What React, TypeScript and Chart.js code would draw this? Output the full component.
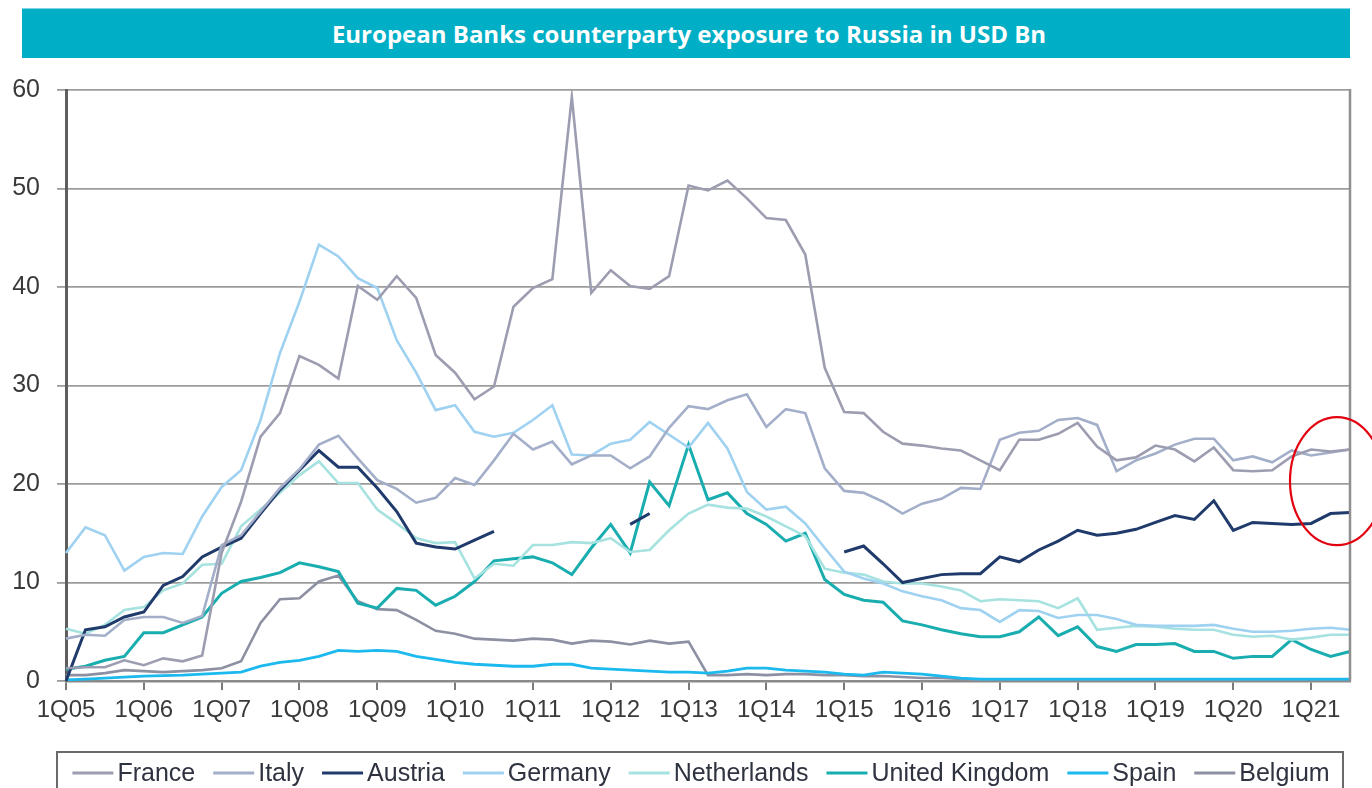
import React, { useEffect, useRef } from 'react';
import { Chart, registerables } from 'chart.js';

Chart.register(...registerables);

const TITLE = 'European Banks counterparty exposure to Russia in USD Bn';

const quarters = [
  '1Q05', '2Q05', '3Q05', '4Q05', '1Q06', '2Q06', '3Q06', '4Q06',
  '1Q07', '2Q07', '3Q07', '4Q07', '1Q08', '2Q08', '3Q08', '4Q08',
  '1Q09', '2Q09', '3Q09', '4Q09', '1Q10', '2Q10', '3Q10', '4Q10',
  '1Q11', '2Q11', '3Q11', '4Q11', '1Q12', '2Q12', '3Q12', '4Q12',
  '1Q13', '2Q13', '3Q13', '4Q13', '1Q14', '2Q14', '3Q14', '4Q14',
  '1Q15', '2Q15', '3Q15', '4Q15', '1Q16', '2Q16', '3Q16', '4Q16',
  '1Q17', '2Q17', '3Q17', '4Q17', '1Q18', '2Q18', '3Q18', '4Q18',
  '1Q19', '2Q19', '3Q19', '4Q19', '1Q20', '2Q20', '3Q20', '4Q20',
  '1Q21', '2Q21', '3Q21',
];

const france = [
  1.3, 1.4, 1.4, 2.1, 1.6, 2.3, 2.0, 2.6,
  13.0, 18.2, 24.8, 27.2, 33.0, 32.1, 30.7, 40.1,
  38.7, 41.1, 38.9, 33.1, 31.3, 28.6, 29.9, 38.0,
  39.9, 40.8, 59.3, 39.4, 41.7, 40.1, 39.8, 41.1,
  50.3, 49.8, 50.8, 49.0, 47.0, 46.8, 43.3, 31.8,
  27.3, 27.2, 25.3, 24.1, 23.9, 23.6, 23.4, 22.4,
  21.4, 24.5, 24.5, 25.1, 26.2, 23.8, 22.4, 22.7,
  23.9, 23.5, 22.3, 23.7, 21.4, 21.3, 21.4, 22.8,
  23.5, 23.3, 23.5,
];

const italy = [
  4.3, 4.7, 4.6, 6.2, 6.5, 6.5, 5.9, 6.6,
  13.8, 14.8, 17.2, 19.6, 21.5, 24.0, 24.9, 22.6,
  20.4, 19.5, 18.1, 18.6, 20.6, 19.9, 22.4, 25.1,
  23.5, 24.3, 22.0, 22.9, 22.9, 21.6, 22.8, 25.7,
  27.9, 27.6, 28.5, 29.1, 25.8, 27.6, 27.2, 21.6,
  19.3, 19.1, 18.2, 17.0, 18.0, 18.5, 19.6, 19.5,
  24.5, 25.2, 25.4, 26.5, 26.7, 26.0, 21.3, 22.4,
  23.1, 24.0, 24.6, 24.6, 22.4, 22.8, 22.2, 23.4,
  22.9, 23.2, 23.5,
];

const austria = [
  0.0, 5.2, 5.5, 6.5, 7.0, 9.7, 10.6, 12.6,
  13.6, 14.5, 17.0, 19.4, 21.4, 23.4, 21.7, 21.7,
  19.6, 17.2, 14.0, 13.6, 13.4, 14.3, 15.2, null,
  null, null, null, null, null, 15.9, 17.0, null,
  null, null, null, null, null, null, null, null,
  13.1, 13.7, 11.9, 10.0, 10.4, 10.8, 10.9, 10.9,
  12.6, 12.1, 13.3, 14.2, 15.3, 14.8, 15.0, 15.4,
  16.1, 16.8, 16.4, 18.3, 15.3, 16.1, 16.0, 15.9,
  16.0, 17.0, 17.1,
];

const germany = [
  13.0, 15.6, 14.8, 11.2, 12.6, 13.0, 12.9, 16.7,
  19.7, 21.4, 26.5, 33.3, 38.5, 44.3, 43.1, 40.9,
  39.9, 34.6, 31.3, 27.5, 28.0, 25.3, 24.8, 25.2,
  26.5, 28.0, 23.0, 22.9, 24.1, 24.5, 26.3, 25.0,
  23.7, 26.2, 23.6, 19.2, 17.4, 17.7, 16.0, 13.5,
  11.1, 10.4, 9.9, 9.1, 8.6, 8.2, 7.4, 7.2,
  6.0, 7.2, 7.1, 6.4, 6.7, 6.7, 6.3, 5.7,
  5.6, 5.6, 5.6, 5.7, 5.3, 5.0, 5.0, 5.1,
  5.3, 5.4, 5.2,
];

const netherlands = [
  5.3, 4.8, 5.7, 7.2, 7.5, 9.2, 9.9, 11.8,
  11.9, 15.7, 17.4, 19.1, 20.9, 22.3, 20.1, 20.1,
  17.4, 16.0, 14.5, 14.0, 14.1, 10.4, 11.9, 11.7,
  13.8, 13.8, 14.1, 14.0, 14.5, 13.1, 13.3, 15.3,
  17.0, 17.9, 17.6, 17.5, 16.7, 15.7, 14.7, 11.4,
  11.0, 10.8, 10.1, 9.9, 9.9, 9.6, 9.2, 8.1,
  8.3, 8.2, 8.1, 7.4, 8.4, 5.2, 5.4, 5.6,
  5.5, 5.3, 5.2, 5.2, 4.7, 4.5, 4.6, 4.2,
  4.4, 4.7, 4.7,
];

const unitedKingdom = [
  1.2, 1.5, 2.1, 2.5, 4.9, 4.9, 5.7, 6.5,
  8.9, 10.1, 10.5, 11.0, 12.0, 11.6, 11.1, 7.9,
  7.4, 9.4, 9.2, 7.7, 8.6, 10.1, 12.2, 12.4,
  12.6, 12.0, 10.8, 13.5, 15.9, 13.0, 20.2, 17.8,
  24.0, 18.4, 19.1, 17.0, 15.9, 14.2, 15.0, 10.3,
  8.8, 8.2, 8.0, 6.1, 5.7, 5.2, 4.8, 4.5,
  4.5, 5.0, 6.5, 4.6, 5.5, 3.5, 3.0, 3.7,
  3.7, 3.8, 3.0, 3.0, 2.3, 2.5, 2.5, 4.2,
  3.2, 2.5, 3.0,
];

const spain = [
  0.1, 0.2, 0.3, 0.4, 0.5, 0.55, 0.6, 0.7,
  0.8, 0.9, 1.5, 1.9, 2.1, 2.5, 3.1, 3.0,
  3.1, 3.0, 2.5, 2.2, 1.9, 1.7, 1.6, 1.5,
  1.5, 1.7, 1.7, 1.3, 1.2, 1.1, 1.0, 0.9,
  0.9, 0.8, 1.0, 1.3, 1.3, 1.1, 1.0, 0.9,
  0.7, 0.6, 0.9, 0.8, 0.7, 0.5, 0.3, 0.2,
  0.2, 0.2, 0.2, 0.2, 0.2, 0.2, 0.2, 0.2,
  0.2, 0.2, 0.2, 0.2, 0.2, 0.2, 0.2, 0.2,
  0.2, 0.2, 0.2,
];

const belgium = [
  0.6, 0.6, 0.8, 1.1, 1.0, 0.9, 1.0, 1.1,
  1.3, 2.0, 5.9, 8.3, 8.4, 10.1, 10.7, 8.1,
  7.3, 7.2, 6.2, 5.1, 4.8, 4.3, 4.2, 4.1,
  4.3, 4.2, 3.8, 4.1, 4.0, 3.7, 4.1, 3.8,
  4.0, 0.6, 0.6, 0.7, 0.6, 0.7, 0.7, 0.6,
  0.6, 0.5, 0.5, 0.4, 0.3, 0.3, 0.2, 0.1,
  0.1, 0.1, 0.1, 0.1, 0.1, 0.1, 0.1, 0.1,
  0.1, 0.1, 0.1, 0.1, 0.1, 0.1, 0.1, 0.1,
  0.1, 0.1, 0.1,
];

const seriesNames = ['France', 'Italy', 'Austria', 'Germany', 'Netherlands', 'United Kingdom', 'Spain', 'Belgium'];
const seriesData = [france, italy, austria, germany, netherlands, unitedKingdom, spain, belgium];
const seriesColors = ['#9d9db1', '#a3aec9', '#1f3a6b', '#9fd2f1', '#a6e2df', '#19adb0', '#1bb9ee', '#8d90a3'];
const seriesWidths = [2.6, 2.6, 3, 2.6, 2.6, 3, 2.8, 2.6];

const yMin = 0;
const yMax = 60;
const yStep = 10;

// value around which the highlight ellipse is centred (last quarters)
const highlightValue = 20.3;

const FONT = '"Liberation Sans", Arial, sans-serif';

const framePlugin = {
  id: 'frameAndLegend',
  afterDraw(chart: any) {
    const { ctx, chartArea } = chart;
    ctx.save();
    // right border
    ctx.strokeStyle = '#8f8f8f';
    ctx.lineWidth = 2.5;
    ctx.beginPath();
    ctx.moveTo(chartArea.right, chartArea.top - 1);
    ctx.lineTo(chartArea.right, chartArea.bottom);
    ctx.stroke();

    // red highlight ellipse around the latest quarters
    const cy = chart.scales.y.getPixelForValue(highlightValue);
    const cx = chartArea.right - 13;
    ctx.strokeStyle = '#e3000f';
    ctx.lineWidth = 2.2;
    ctx.beginPath();
    ctx.ellipse(cx, cy, 47, 64, 0, 0, Math.PI * 2);
    ctx.stroke();

    // legend box
    const boxLeft = 57;
    const boxRight = 1343;
    const boxTop = chartArea.bottom + 71;
    ctx.strokeStyle = '#6a6a6a';
    ctx.lineWidth = 2;
    ctx.strokeRect(boxLeft, boxTop, boxRight - boxLeft, 60);

    ctx.font = '25px ' + FONT;
    ctx.textBaseline = 'middle';
    ctx.textAlign = 'left';
    const swatch = 41;
    const gapText = 4;
    const gapItem = 18;
    const widths = chart.data.datasets.map((d: any) => ctx.measureText(d.label).width);
    const total = widths.reduce((a: number, w: number) => a + swatch + gapText + w, 0) + gapItem * (widths.length - 1);
    let x = (boxLeft + boxRight) / 2 - total / 2 + 1;
    const yMid = boxTop + 21;
    chart.data.datasets.forEach((d: any, i: number) => {
      ctx.strokeStyle = d.borderColor;
      ctx.lineWidth = 3;
      ctx.beginPath();
      ctx.moveTo(x, yMid);
      ctx.lineTo(x + swatch, yMid);
      ctx.stroke();
      ctx.fillStyle = '#2f3340';
      ctx.fillText(d.label, x + swatch + gapText, yMid + 1);
      x += swatch + gapText + widths[i] + gapItem;
    });
    ctx.restore();
  },
};

export default function App() {
  const canvasRef = useRef<HTMLCanvasElement | null>(null);

  useEffect(() => {
    const canvas = canvasRef.current;
    if (!canvas) return;
    const chart = new Chart(canvas, {
      type: 'line',
      data: {
        labels: quarters,
        datasets: seriesNames.map((name, i) => ({
          label: name,
          data: seriesData[i],
          borderColor: seriesColors[i],
          backgroundColor: seriesColors[i],
          borderWidth: seriesWidths[i],
          pointRadius: 0,
          pointHoverRadius: 0,
          tension: 0,
          fill: false,
          spanGaps: false,
        })),
      },
      options: {
        responsive: false,
        animation: false,
        devicePixelRatio: 1,
        layout: { padding: { top: 90, left: 0, right: 22, bottom: 0 } },
        plugins: {
          legend: { display: false },
          title: { display: false },
          tooltip: { enabled: false },
        },
        scales: {
          x: {
            type: 'category',
            offset: false,
            afterFit: (scale: any) => {
              scale.height = 107;
            },
            grid: {
              display: true,
              drawOnChartArea: false,
              drawTicks: true,
              tickLength: 9,
              lineWidth: 2,
              color: (c: any) => (c.index % 4 === 0 ? '#7a7a7a' : 'rgba(0,0,0,0)'),
            },
            border: { display: true, color: '#8a8a8a', width: 2.5 },
            ticks: {
              autoSkip: false,
              maxRotation: 0,
              minRotation: 0,
              padding: 6,
              color: '#3a3a3a',
              font: { family: FONT, size: 24 },
              callback: (_v: any, idx: number) => (idx % 4 === 0 ? quarters[idx] : ''),
            },
          },
          y: {
            min: yMin,
            max: yMax,
            afterFit: (scale: any) => {
              scale.width = 66;
            },
            grid: {
              color: '#9c9c9c',
              lineWidth: 1.8,
              drawTicks: true,
              tickLength: 9,
            },
            border: { display: true, color: '#5e5e5e', width: 3 },
            ticks: {
              stepSize: yStep,
              padding: 17,
              color: '#3a3a3a',
              font: { family: FONT, size: 25 },
            },
          },
        },
      },
      plugins: [framePlugin],
    });
    return () => chart.destroy();
  }, []);

  return (
    <div style={{ position: 'fixed', left: 0, top: 0, width: 1372, height: 788, background: '#ffffff', overflow: 'hidden' }}>
      <canvas ref={canvasRef} width={1372} height={788} style={{ position: 'absolute', left: 0, top: 0, width: 1372, height: 788 }} />
      <div
        style={{
          position: 'absolute',
          left: 22,
          top: 8,
          width: 1328,
          height: 50,
          background: '#00aec6',
          borderTop: '1px solid #7fd6e2',
          color: '#ffffff',
          fontFamily: '"Open Sans", sans-serif',
          fontWeight: 700,
          fontSize: 24,
          display: 'flex',
          alignItems: 'center',
          justifyContent: 'center',
          boxSizing: 'border-box',
          paddingLeft: 6,
        }}
      >
        {TITLE}
      </div>
    </div>
  );
}
